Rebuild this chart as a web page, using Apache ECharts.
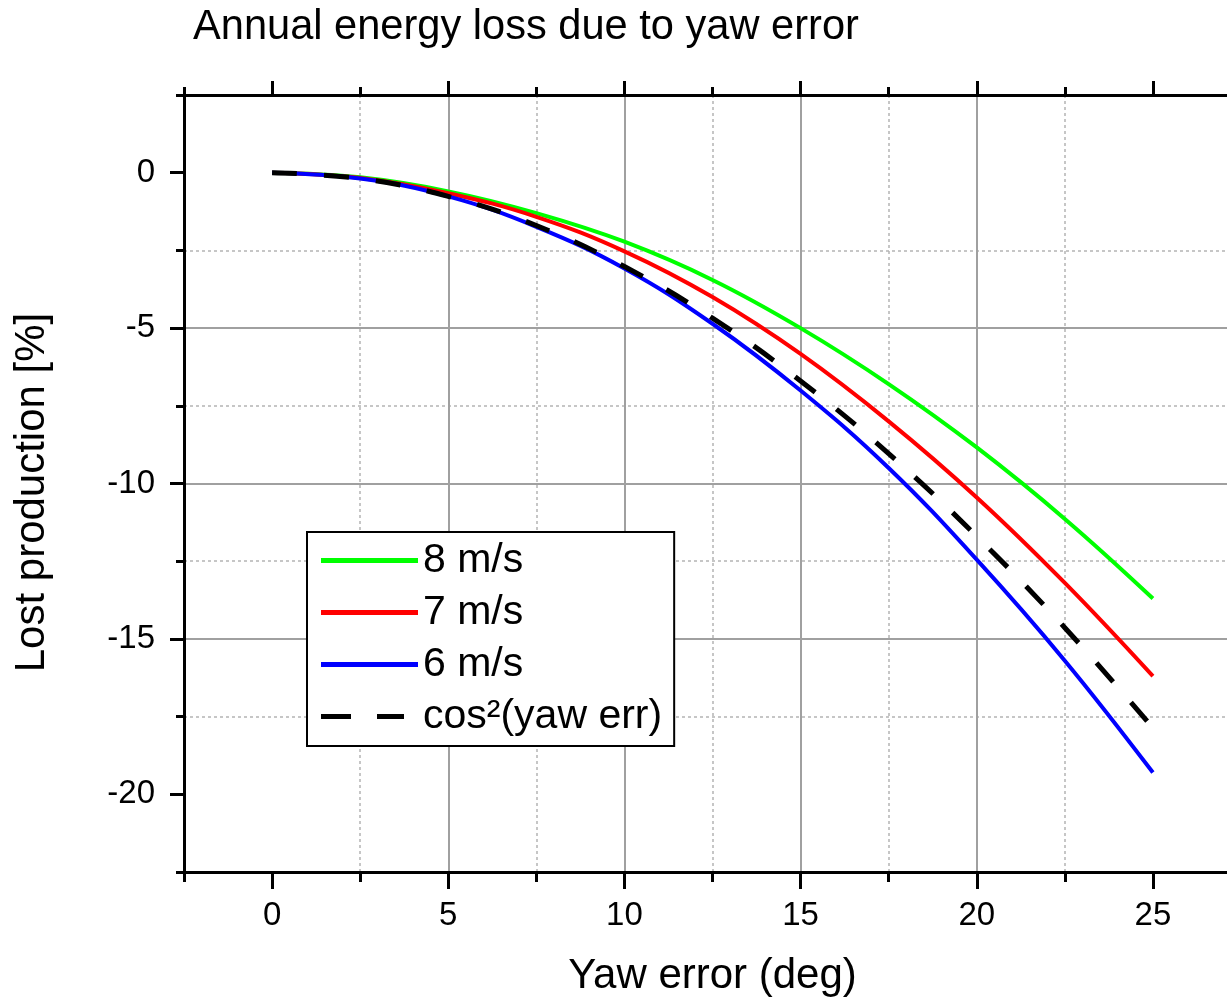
<!DOCTYPE html>
<html>
<head>
<meta charset="utf-8">
<title>Annual energy loss due to yaw error</title>
<script src="https://cdn.jsdelivr.net/npm/echarts@6/dist/echarts.min.js"></script>
<style>
html, body { margin: 0; padding: 0; background: #fff; overflow: hidden; }
/* the plot box runs past the right edge of the picture, so the chart is a bit wider than the window */
#main { width: 1241px; height: 1001px; }
</style>
</head>
<body>
<div id="main"></div>
<script>
// values
var yawDeg = [0, 2.5, 5, 7.5, 10, 12.5, 15, 17.5, 20, 22.5, 25];
var loss8 = [0, -0.15, -0.6, -1.3, -2.22, -3.45, -5.0, -6.8, -8.84, -11.14, -13.7];
var loss7 = [0, -0.17, -0.66, -1.42, -2.53, -4.0, -5.83, -8.0, -10.45, -13.2, -16.2];
var loss6 = [0, -0.19, -0.76, -1.74, -3.08, -4.86, -7.01, -9.5, -12.45, -15.7, -19.3];
var lossCos2 = [0, -0.19, -0.76, -1.70, -3.02, -4.68, -6.70, -9.04, -11.70, -14.64, -17.86];

var xMajorTicks = [0, 5, 10, 15, 20, 25];
var xMinorTicks = [-2.5, 2.5, 7.5, 12.5, 17.5, 22.5, 27.5];
var yMajorTicks = [-20, -15, -10, -5, 0];
var yMinorTicks = [-22.5, -17.5, -12.5, -7.5, -2.5, 2.5];

var FONT = '"Liberation Sans", Arial, sans-serif';

// legend keys drawn as bars 97 x 5
var solidKey = 'path://M0,0h97v5h-97z';
var dashedKey = 'path://M0,0h30v5h-30z M56,0h27v5h-27z M97,0v5z';

function pairs(xs, ys) {
    return xs.map(function (x, i) { return [x, ys[i]]; });
}

// one axis layer: either the minor ticks + dotted grid, or the major ticks + solid grid
function axisLayer(base, major, ticks, tickLen, showLine, showLabel, showSplit, labelMargin) {
    return Object.assign({
        type: 'value',
        axisLine: { show: showLine, onZero: false, lineStyle: { color: '#000', width: 3 } },
        axisTick: { show: true, customValues: ticks, length: tickLen, lineStyle: { color: '#000', width: 3 } },
        axisLabel: {
            show: showLabel,
            customValues: ticks,
            margin: labelMargin || 8,
            color: '#000',
            fontSize: 33,
            fontFamily: FONT
        },
        splitLine: {
            show: showSplit,
            showMinLine: false,
            showMaxLine: false,
            lineStyle: major
                ? { color: '#a0a0a0', width: 2, type: 'solid' }
                : { color: '#b4b4b4', width: 1.5, type: [3, 3] }
        },
        minorTick: { show: false },
        minorSplitLine: { show: false }
    }, base);
}

var xBase = { min: -2.5, max: 27.5, interval: 2.5 };
var yBase = { min: -22.5, max: 2.5, interval: 2.5 };

var dom = document.getElementById('main');
var myChart = echarts.init(dom, null, { renderer: 'canvas' });
var option = {
    animation: false,
    backgroundColor: '#fff',
    title: {
        text: 'Annual energy loss due to yaw error',
        left: 188,
        top: 2,
        textStyle: { fontSize: 41.6, fontWeight: 'normal', color: '#000', fontFamily: FONT }
    },
    grid: { left: 184, right: 0, top: 95, bottom: 129, containLabel: false, outerBoundsMode: 'none' },
    legend: {
        orient: 'vertical',
        left: 307,
        top: 532,
        padding: [8, 12, 9, 14],
        itemGap: 11,
        itemWidth: 97,
        itemHeight: 5,
        backgroundColor: '#fff',
        borderColor: '#000',
        borderWidth: 2,
        borderRadius: 0,
        textStyle: { fontSize: 41, lineHeight: 40, color: '#000', fontFamily: FONT },
        data: [
            { name: '8 m/s', icon: solidKey },
            { name: '7 m/s', icon: solidKey },
            { name: '6 m/s', icon: solidKey },
            { name: 'cos²(yaw err)', icon: dashedKey }
        ]
    },
    xAxis: [
        Object.assign(axisLayer(xBase, false, xMinorTicks, 10, true, false, true), {
            position: 'bottom'
        }),
        Object.assign(axisLayer(xBase, true, xMajorTicks, 17, false, true, true, 27), {
            position: 'bottom',
            name: 'Yaw error (deg)',
            nameLocation: 'middle',
            nameGap: 83,
            nameTextStyle: { fontSize: 42, color: '#000', fontFamily: FONT }
        }),
        Object.assign(axisLayer(xBase, false, xMinorTicks, 8, true, false, false), {
            position: 'top'
        }),
        Object.assign(axisLayer(xBase, true, xMajorTicks, 14, false, false, false), {
            position: 'top'
        })
    ],
    yAxis: [
        Object.assign(axisLayer(yBase, false, yMinorTicks, 8, true, false, true), {
            position: 'left'
        }),
        Object.assign(axisLayer(yBase, true, yMajorTicks, 14, false, true, true, 29), {
            position: 'left',
            name: 'Lost production [%]',
            nameLocation: 'middle',
            nameGap: 131,
            nameTextStyle: { fontSize: 42, color: '#000', fontFamily: FONT, padding: [0, 18, 0, 0] }
        })
    ],
    series: [
        {
            name: '8 m/s',
            type: 'line',
            data: pairs(yawDeg, loss8),
            smooth: 0.4,
            showSymbol: false,
            lineStyle: { color: '#00ff00', width: 4 },
            itemStyle: { color: '#00ff00' }
        },
        {
            name: '7 m/s',
            type: 'line',
            data: pairs(yawDeg, loss7),
            smooth: 0.4,
            showSymbol: false,
            lineStyle: { color: '#ff0000', width: 4 },
            itemStyle: { color: '#ff0000' }
        },
        {
            name: '6 m/s',
            type: 'line',
            data: pairs(yawDeg, loss6),
            smooth: 0.4,
            showSymbol: false,
            lineStyle: { color: '#0000ff', width: 4 },
            itemStyle: { color: '#0000ff' }
        },
        {
            name: 'cos²(yaw err)',
            type: 'line',
            data: pairs(yawDeg, lossCos2),
            smooth: 0.4,
            showSymbol: false,
            lineStyle: { color: '#000', width: 5, type: [25, 27] },
            itemStyle: { color: '#000' }
        }
    ]
};
if (option && typeof option === 'object') {
    myChart.setOption(option, true);
    window.onresize = myChart.resize;
}
</script>
</body>
</html>
